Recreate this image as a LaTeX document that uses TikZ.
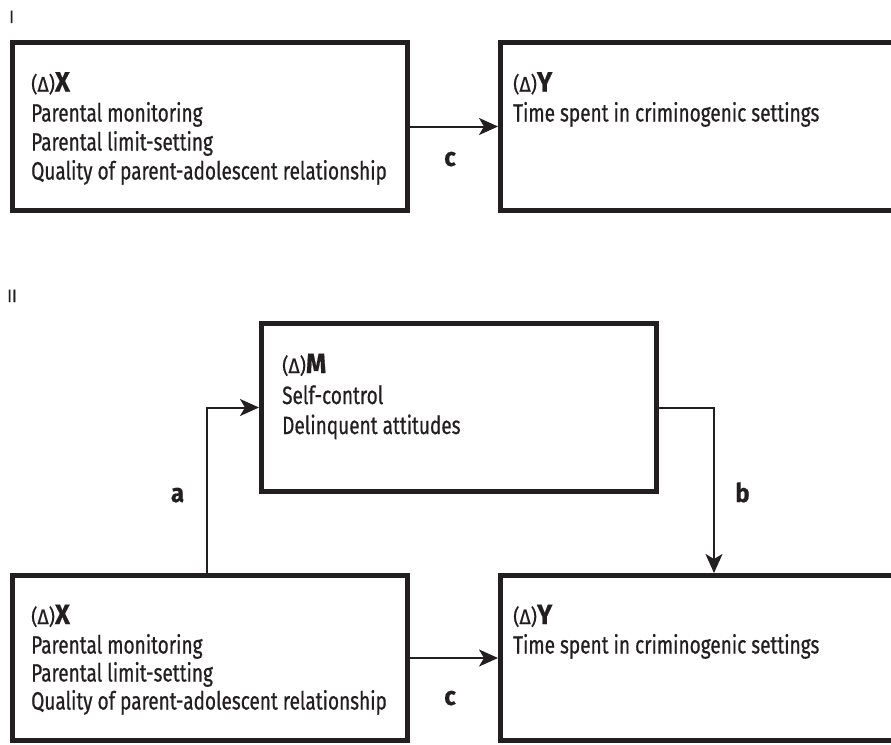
\documentclass[tikz,border=0pt]{standalone}
\usepackage{fontspec}
\setmainfont{Fira Sans}[FakeStretch=0.76, FakeBold=0.6]
\newfontfamily\hdfont{Fira Sans}[FakeStretch=0.92, FakeBold=0.6]
\usetikzlibrary{arrows.meta}
\definecolor{ink}{HTML}{231F20}
\begin{document}
\begin{tikzpicture}[x=1pt,y=-1pt,
  box/.style={draw=ink, line width=5pt, minimum width=395pt, minimum height=168pt, inner sep=0pt},
  ln/.style={anchor=base west, inner sep=0pt, text=ink, font=\fontsize{25}{25}\selectfont},
  lbl/.style={anchor=base, inner sep=0pt, text=ink, font=\hdfont\fontsize{26}{26}\selectfont\bfseries},
  num/.style={anchor=base west, inner sep=0pt, text=ink, font=\hdfont\fontsize{18}{18}\selectfont},
  conn/.style={draw=ink, line width=2pt, -{Stealth[length=19pt,width=17pt,inset=5pt]}}]
\useasboundingbox (0,0) rectangle (891,744);
\fill[white] (0,0) rectangle (891,744);
\clip (0,0) rectangle (891,744);
\newcommand{\hdr}[1]{\hdfont{\fontsize{21}{21}\selectfont(Δ)}{\fontsize{28}{28}\selectfont\bfseries #1}}
% Part I
\node[num] (n1) at (9,23) {I};
\node[box] (x1) at (210,126.5) {};
\node[box] (y1) at (698,126.5) {};
\node[ln] (x1h) at (31,91.5) {\hdr{X}};
\node[ln] (x1a) at (31,121.5) {Parental monitoring};
\node[ln] (x1b) at (31,150.5) {Parental limit-setting};
\node[ln] (x1c) at (31,179.5) {Quality of parent-adolescent relationship};
\node[ln] (y1h) at (513,91.5) {\hdr{Y}};
\node[ln] (y1a) at (513,121.5) {Time spent in criminogenic settings};
\draw[conn] (x1) -- (y1);
\node[lbl] (c1) at (450,166) {c};
% Part II
\node[num] (n2) at (7,302) {II};
\node[box] (m) at (459,407.5) {};
\node[ln] (mh) at (282,373) {\hdr{M}};
\node[ln] (ma) at (282,404) {Self-control};
\node[ln] (mb) at (282,434) {Delinquent attitudes};
\node[box, minimum height=165pt] (x2) at (210,658) {};
\node[box, minimum height=165pt] (y2) at (698,658) {};
\node[ln] (x2h) at (31,624) {\hdr{X}};
\node[ln] (x2a) at (31,653.5) {Parental monitoring};
\node[ln] (x2b) at (31,681.5) {Parental limit-setting};
\node[ln] (x2c) at (31,709.5) {Quality of parent-adolescent relationship};
\node[ln] (y2h) at (513,624) {\hdr{Y}};
\node[ln] (y2a) at (513,653.5) {Time spent in criminogenic settings};
\draw[conn] ([xshift=-3pt]x2.north) |- (m.west);
\draw[conn] (m.east) -| ([xshift=16pt]y2.north);
\draw[conn] (x2) -- (y2);
\node[lbl] (la) at (177.5,502) {a};
\node[lbl] (lb) at (742.5,502) {b};
\node[lbl] (c2) at (450,705) {c};
\end{tikzpicture}
\end{document}
